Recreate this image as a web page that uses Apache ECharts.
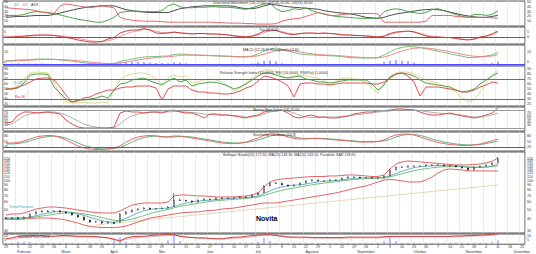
<!DOCTYPE html>
<html><head><meta charset="utf-8">
<script src="https://cdn.jsdelivr.net/npm/echarts@6/dist/echarts.min.js"></script>
<style>html,body{margin:0;padding:0;background:#fff}#c{width:536px;height:254px}</style>
</head><body><div id="c"></div>
<script>
// ---------- axis / tick labels ----------
const dayLabels = ['29','5','12','19','26','4','11','18','25','1','8','15','22','29','6','13','20','27','3','10','17','24','1','8','15','22','29','5','12','19','26','2','9','16','23','30','7','14','21','28','4','11','18','25'];
const monthNames = ['Februari','Maret','April','Mei','Juni','Juli','Agustus','September','Oktober','November','Desember'];
const monthIdx = [3,10,18,26,34,42,51,60,69,78,86];
const priceTicks = [30,40,50,60,70,80,90,100,110,120,130,140,150,160,170,180];

// ---------- price ----------
const openP = [40.5,40.9,41.2,40.6,42.0,45.0,47.3,48.4,48.0,48.6,47.3,46.2,44.0,41.9,39.0,37.2,37.5,36.3,37.0,37.0,45.1,47.3,49.6,50.8,52.0,50.8,51.2,52.0,54.0,63.0,62.5,61.6,60.1,63.0,64.6,64.0,66.1,65.5,66.1,66.5,67.8,67.5,71.1,75.0,88.2,94.8,94.0,90.4,88.2,90.4,94.8,99.5,101.9,99.5,100.0,101.9,102.5,106.8,109.4,109.0,106.8,107.5,106.8,107.0,112.1,129.4,139.1,138.0,142.5,141.5,142.5,146.0,145.0,146.0,142.5,143.0,139.1,135.8,129.4,139.1,142.5,146.0,153.1];
const closeP = [40.9,41.2,40.6,41.9,45.1,47.3,48.4,48.0,48.6,47.3,46.2,44.0,41.9,39.0,37.2,37.5,36.3,37.0,36.0,45.1,47.3,49.6,50.8,52.0,50.8,51.2,52.0,53.3,63.0,62.5,61.6,60.1,63.0,64.6,64.0,66.1,65.5,66.1,66.5,67.8,67.5,71.1,74.6,88.2,94.8,94.0,90.4,88.2,90.4,94.8,99.5,101.9,99.5,100.0,101.9,102.5,106.8,109.4,109.0,106.8,107.5,106.8,107.0,112.1,129.4,139.1,138.0,142.5,141.5,142.5,146.0,145.0,146.0,142.5,143.0,139.1,135.8,129.4,139.1,142.5,146.0,153.1,168.5];
const highP = [41.8,42.0,41.9,42.6,45.8,48.2,49.2,49.3,49.5,49.0,47.9,46.6,44.5,42.3,39.6,38.3,38.0,37.8,37.4,46.0,48.5,50.4,51.8,53.0,52.6,52.0,52.8,54.2,74.6,65.0,63.4,62.2,63.8,65.6,65.4,66.9,67.0,67.2,67.4,68.8,68.6,72.0,75.8,89.6,96.5,96.2,94.6,91.0,91.5,95.8,100.6,103.0,102.6,101.2,103.0,103.8,108.0,110.8,110.6,109.8,108.6,108.4,108.2,113.4,131.0,140.8,140.5,143.8,144.0,144.0,147.4,147.6,147.8,146.8,144.4,143.8,140.0,136.4,140.2,143.6,147.2,154.6,176.8];
const lowP = [39.8,40.2,40.0,40.2,41.6,44.6,46.8,47.2,47.5,46.8,45.6,43.5,41.2,38.5,36.7,36.6,35.6,35.8,35.3,36.8,44.5,46.9,49.0,50.2,50.0,50.1,50.7,51.6,53.5,61.5,60.6,59.2,59.6,62.4,63.2,63.5,64.8,65.0,65.5,65.9,66.8,67.0,70.5,74.4,87.4,92.6,89.4,87.0,87.6,89.8,94.0,98.6,98.4,98.6,99.2,101.0,101.8,106.0,108.0,105.8,105.9,105.6,105.8,106.4,111.4,128.5,136.4,137.2,140.2,140.4,141.6,143.8,144.0,141.4,141.2,138.0,134.2,128.0,128.8,138.2,141.6,145.2,152.0];
const bbUpper = [44.0,45.1,45.1,46.2,48.4,50.8,52.0,53.3,53.3,52.7,52.0,50.8,49.6,48.4,47.3,46.7,46.2,46.2,46.2,48.4,52.0,55.9,57.3,58.7,58.7,58.7,58.7,60.1,69.4,71.1,71.1,70.3,69.4,69.4,68.6,67.8,67.8,67.8,67.8,68.6,69.4,71.1,74.6,86.1,97.1,101.9,104.3,105.5,106.8,108.1,109.4,110.7,110.7,110.7,112.1,112.1,113.4,114.8,114.8,113.4,112.1,110.7,110.7,114.8,132.6,149.5,156.8,160.6,158.7,156.8,155.0,153.1,151.3,149.5,147.7,146.0,146.0,146.0,147.7,149.5,153.1,158.7,172.6];
const bbLower = [40.0,39.5,39.5,40.0,40.4,40.9,40.9,40.9,40.4,40.0,39.0,37.6,36.3,34.6,33.4,33.0,32.6,32.6,32.6,33.0,33.8,35.4,37.2,39.0,40.9,41.9,42.9,44.0,45.1,46.2,46.7,47.3,47.3,48.4,49.0,49.6,50.8,51.4,52.0,53.3,54.6,55.9,57.3,58.7,58.7,58.7,60.1,61.6,63.0,64.6,66.1,67.8,69.4,71.1,72.8,74.6,77.4,80.1,83.1,86.1,88.2,92.6,97.1,101.9,103.1,101.9,99.5,97.1,97.1,97.1,101.9,109.4,120.4,129.4,132.6,131.0,129.4,126.4,126.4,126.4,126.4,126.4,126.4];
const maFast = [40.8,40.9,40.9,41.1,41.9,43.3,44.8,46.3,47.5,48.0,47.7,46.8,45.4,43.6,41.6,39.9,38.4,37.4,36.8,38.4,40.8,43.4,46.3,48.8,50.3,51.1,51.4,51.9,54.0,56.4,58.6,60.0,61.5,62.3,62.8,63.6,64.4,65.2,65.7,66.4,66.8,67.8,69.4,73.3,78.3,83.0,86.4,88.5,89.7,90.6,92.4,95.0,97.1,98.6,99.8,100.6,102.1,104.2,105.9,106.7,107.2,107.4,107.3,108.2,112.5,118.8,125.1,131.4,137.0,139.9,141.7,142.9,143.7,143.6,143.3,142.5,140.9,137.9,137.1,137.5,138.6,141.8,148.3];
const maSlow = [40.6,40.7,40.8,40.9,41.3,42.0,42.9,43.9,44.9,45.7,46.2,46.3,46.0,45.2,44.1,42.8,41.4,40.0,38.8,38.5,38.9,39.9,41.4,43.4,45.5,47.3,48.9,50.2,52.3,54.1,55.5,56.7,58.2,59.6,60.8,61.8,62.6,63.4,64.0,64.8,65.5,66.4,67.6,70.2,73.5,76.8,79.6,82.0,84.1,86.0,88.3,90.8,92.8,94.6,96.2,97.7,99.5,101.5,103.1,104.2,105.0,105.6,106.0,106.9,109.7,113.8,118.2,122.7,127.1,130.5,133.6,136.2,138.4,139.6,140.4,140.6,140.2,139.0,138.6,138.5,138.9,140.2,143.1];
const trendStart = {i:15, v:34.7};
const trendEnd = {i:82, v:90.4};

// ---------- indicators ----------
const dmiAdx = [18,19,20,20,21,22,22,22,24,27,30,33,36,38,40,41,42,42,42,38,34,32,30,29,28,28,28,28,32,36,38,40,41,42,42,42,42,42,41,38,36,36,38,42,45,44,42,40,39,38,37,36,35,32,30,28,27,26,24,21,18,17,16,18,22,25,27,29,31,33,34,35,34,32,29,26,23,21,19,18,18,20,22];
const dmiPlus = [22,22,22,24,28,30,29,28,26,23,20,17,14,12,10,8,8,12,18,28,30,31,31,30,30,30,32,42,46,40,38,38,39,39,40,40,39,39,38,36,35,38,42,46,47,36,30,32,36,34,38,32,28,25,22,20,19,18,17,16,16,16,16,30,34,36,34,30,28,26,28,34,36,32,28,24,20,18,24,24,22,24,32];
const dmiMinus = [38,37,36,35,34,32,29,27,26,42,46,44,42,40,38,40,42,40,38,18,14,12,11,10,10,10,9,8,8,8,8,8,8,8,8,7,7,6,6,6,5,5,4,4,4,5,10,13,15,16,20,24,28,25,22,22,24,25,26,26,26,26,25,8,8,8,8,8,8,8,10,22,22,22,22,20,19,18,18,18,18,17,16];
const trixA = [0,0,0.5,1,1.5,2,2,2,1.5,0.5,-0.5,-1.5,-3,-4,-5,-5,-4.5,-2,-0.5,4,6,7,7,8.5,7,4,3.5,4,5,4,3.5,3,3.5,3.5,3,3,2.5,2,1,0.5,0,1,3,6,7,6.5,4.5,3,2.5,3.5,4,4,3.5,4,3.5,3,2,2,1.5,1.5,1,0.5,0,1,3.5,5,5.5,6,5,3,1,0,0,-0.5,-0.5,-1.5,-2.5,-3,-2,0,1,3,6];
const trixB = [0,0,0.2,0.5,0.9,1.3,1.7,1.9,1.8,1.3,0.6,-0.3,-1.4,-2.6,-3.7,-4.5,-4.7,-3.8,-2.3,0.6,3.2,5.0,6.2,7.4,7.3,5.7,4.5,4.2,4.6,4.3,3.8,3.3,3.4,3.4,3.1,3.0,2.7,2.3,1.5,0.8,0.3,0.6,2.0,4.4,6.2,6.6,5.3,3.8,2.9,3.2,3.7,3.9,3.6,3.8,3.6,3.2,2.5,2.1,1.7,1.5,1.2,0.8,0.3,0.6,2.5,4.2,5.1,5.7,5.3,3.8,1.9,0.5,0,-0.3,-0.5,-1.1,-2.0,-2.7,-2.4,-1.0,0.5,2.2,4.6];
const macdLine = [1.0,1.5,2.0,2.2,2.5,2.8,3.0,2.9,2.5,2.0,1.5,0.8,0.0,-0.8,-1.5,-1.8,-2.0,-1.9,-1.5,0.5,1.8,3.0,4.0,5.0,5.3,5.5,5.8,6.0,7.5,8.0,7.6,7.0,6.8,6.5,6.3,6.0,5.8,5.5,5.2,5.0,5.2,6.0,8.0,11.0,13.0,14.0,12.8,11.0,9.5,8.0,7.5,7.0,6.8,6.5,6.2,6.0,5.3,4.5,4.2,4.0,4.0,4.0,4.5,7.0,10.0,13.0,14.5,15.5,15.2,14.5,13.2,12.0,10.8,9.5,8.2,7.0,5.8,4.5,4.6,5.0,6.0,7.0,10.0];
const macdSignal = [0.8,1.0,1.3,1.6,1.9,2.2,2.5,2.7,2.7,2.5,2.2,1.8,1.3,0.6,-0.1,-0.7,-1.2,-1.5,-1.6,-1.0,-0.2,0.9,2.0,3.0,3.8,4.4,4.9,5.3,5.8,6.5,6.9,7.0,6.9,6.8,6.6,6.4,6.1,5.9,5.6,5.3,5.2,5.4,6.2,7.8,9.6,11.2,12.1,12.0,11.2,10.0,9.0,8.2,7.6,7.1,6.8,6.5,6.1,5.6,5.1,4.7,4.4,4.2,4.2,5.0,6.7,8.9,10.9,12.6,13.7,14.2,14.0,13.4,12.5,11.4,10.2,9.0,7.8,6.6,5.8,5.4,5.5,6.0,7.4];
const macdHist = [0.2,0.5,0.7,0.6,0.6,0.6,0.5,0.2,-0.2,-0.5,-0.7,-1.0,-1.3,-1.4,-1.4,-1.1,-0.8,-0.4,0.1,1.5,2.0,2.1,2.0,2.0,1.5,1.1,0.9,0.7,1.7,1.5,0.7,0,-0.1,-0.3,-0.3,-0.4,-0.3,-0.4,-0.4,-0.3,0,0.6,1.8,3.2,3.4,2.8,0.7,-1.0,-1.7,-2.0,-1.5,-1.2,-0.8,-0.6,-0.6,-0.5,-0.8,-1.1,-0.9,-0.7,-0.4,-0.2,0.3,2.0,3.3,4.1,3.6,2.9,1.5,0.3,-0.8,-1.4,-1.7,-1.9,-2.0,-2.0,-2.0,-2.1,-1.2,-0.4,0.5,1.0,2.6];
const rsiGreen = [50,50,52,62,78,80,80,79,54,42,30,24,28,28,30,32,36,32,48,60,62,68,70,72,66,62,58,66,72,64,68,56,60,62,64,63,60,56,50,54,60,68,76,82,82,78,74,72,74,76,70,68,64,64,62,64,66,68,68,68,68,60,48,58,74,80,82,80,76,68,62,60,58,56,54,48,44,46,50,60,68,76,82];
const rsiOlive = [51,52,56,70,82,84,83,82,64,38,24,22,22,23,22,22,24,22,48,68,76,80,82,82,78,70,60,72,78,74,76,62,64,68,70,68,64,56,46,52,62,72,82,88,88,84,76,72,76,78,76,74,72,66,58,64,72,72,70,68,62,52,42,60,76,82,84,84,80,74,68,64,62,56,50,44,32,24,28,44,62,78,88];
const rsiRed = [50,50,54,58,64,70,72,72,68,54,38,24,26,32,34,40,44,48,48,52,54,54,56,56,56,52,28,50,56,56,56,48,44,44,42,42,40,40,42,46,52,56,66,76,74,70,64,56,34,60,62,62,60,60,58,60,62,62,62,62,62,60,60,64,72,80,82,76,64,36,54,54,54,52,50,48,44,44,48,54,58,64,62];
const mfiRed = [36.7,40,63.3,73.3,73.3,70,71.7,73.3,70,66.7,46.7,33.3,23.3,20,20,20,20,20,23.3,70,76.7,73.3,73.3,70,73.3,73.3,70,76.7,80,73.3,70,70,63.3,53.3,66.7,66.7,63.3,63.3,60,56.7,53.3,60,63.3,73.3,76.7,76.7,80,70,56.7,53.3,60,63.3,56.7,56.7,53.3,53.3,56.7,60,66.7,70,73.3,73.3,76.7,78.3,80,83.3,83.3,81.7,80,73.3,66.7,63.3,63.3,66.7,70,65,60,56.7,53.3,56.7,63.3,70,86.7];
const mfiGray = [30,33.3,46.7,60,66.7,70,71.7,73.3,73.3,70,63.3,53.3,43.3,33.3,26.7,23.3,20,20,20,33.3,50,60,66.7,70,71.7,73.3,73.3,73.3,75,75,73.3,71.7,70,66.7,65,63.3,63.3,63.3,61.7,60,56.7,56.7,60,66.7,73.3,76.7,78.3,76.7,70,61.7,56.7,55,55,56.7,56.7,56.7,58.3,60,63.3,65,68.3,70,73.3,75,76.7,80,80,80,80,78.3,75,71.7,70,68.3,66.7,65,63.3,60,56.7,56.7,60,63.3,70];
const stochRed = [42,42,45,53,63,74,79,82,79,71,58,42,26,16,11,8,8,11,16,26,47,63,74,79,82,79,74,74,79,79,74,68,63,58,53,47,42,39,39,42,47,58,68,84,89,89,84,74,66,63,63,66,66,63,61,58,55,53,50,47,47,47,50,58,74,84,89,89,84,74,63,53,45,39,34,32,29,29,32,37,45,53,63];
const stochGreen = [37,37,39,45,53,63,71,76,79,76,68,55,42,29,21,13,11,11,13,18,32,47,61,71,76,79,76,74,74,76,76,74,68,63,58,53,47,45,42,42,45,50,58,68,79,84,84,82,74,68,66,66,66,66,63,61,58,55,53,50,50,50,50,53,61,74,82,87,87,82,74,63,55,47,42,37,34,32,32,34,39,45,53];
const volume = [2,2,3,3,3,2,2,2,1.5,2,2,2,2,1.5,2,2,2,2,5,9,3,2,2,2,2,2,2,5,13,4,2,2,2,1.5,1.5,2,1.5,1.5,2,2,2,2.5,3,8,4,2,2,2,2,2,2,2,1.5,1.5,1.5,1.5,2,2,1.5,1.5,1.5,1.5,2,4,10,4,2,2,2,1.5,1.5,1.5,1.5,2,2,2,2,2,2,2,2,3,5];
const volMA = [7,8,10,11,11,11,11,10.5,10,11,11,10.5,10,10,10,9.5,9,8,6,4,8,9.5,10,10,11,11.5,12,12.5,12,10,9,8.5,8,8,7.5,7,7,8,9,9,10,11,11.5,12,12,11,10,9,9,9,9,8.5,8.5,8.5,8.5,8.5,8.5,9,9,9,9,9,9,9.5,10,10,10,10,10,10,10,10,10,10,10,10.5,10.5,11,11,11.5,12,12.5,13];
const volMA2 = [6,6.5,8,9,9.5,10,10,10,9.5,9.5,10,10,9.5,9,9,9,8.5,8,7,5,6,7.5,8.5,9,9.5,10,10.5,11,11.5,10.5,9.5,8.5,8,7.5,7,6.5,6.5,7,7.5,8,8.5,9.5,10.5,11.5,12,11.5,10.5,9.5,8.5,8,8,8,7.5,7.5,7.5,7.5,7.5,8,8,8,8,8,8,8.5,9,9.5,9.5,9.5,9.5,9.5,9.5,9.5,9.5,9.5,9.5,9.5,10,10,10.5,10.5,11,11.5,12.5];

// ---------- build ----------
const NCAT = 87;
const categories = [];
for (let i = 0; i < NCAT; i++) categories.push('c' + i);
const trendLine = closeP.map(() => null);
trendLine[trendStart.i] = trendStart.v;
trendLine[trendEnd.i] = trendEnd.v;
const candles = openP.map((o, i) => [o, closeP[i], lowP[i], highP[i]]);

const panels = [
  {top:0, height:26, min:0, max:52, labels:[10,20,30,40,50]},
  {top:27, height:17, min:-7, max:10, labels:[0,5]},
  {top:45, height:20, min:-3, max:17, labels:[0,10]},
  {top:66, height:40, min:16, max:96, labels:[20,30,40,50,60,70,80,90]},
  {top:107, height:24, min:10, max:90, labels:[20,30,40,50,60,70,80]},
  {top:132, height:19, min:0, max:100, labels:[20,50,80]},
  {top:152, height:81, log:true, min:28.6, max:199, labels:priceTicks},
  {top:234, height:12, min:0, max:13, labels:[5,10]}
];
const FONT = 'Liberation Sans, Arial, sans-serif';
const grid = panels.map(p => ({left:3, right:11, top:p.top, height:p.height, show:true, borderColor:'#555', borderWidth:1, backgroundColor:'#fff'}));
const xAxis = panels.map((p, g) => ({
  type:'category', gridIndex:g, data:categories, boundaryGap:true,
  axisLine:{show:false}, axisTick:{show:false},
  splitLine:{show:true, interval:1, lineStyle:{color:'#dcdcdc', width:0.6}},
  axisLabel: g === 7 ? {
    show:true, interval:0, fontSize:3.6, lineHeight:4.4, margin:1, color:'#333', fontFamily:FONT,
    formatter:(v, i) => {
      const d = i % 2 === 0 ? (dayLabels[i / 2] || '') : '';
      const m = monthIdx.indexOf(i);
      return m >= 0 ? d + '\n' + monthNames[m] : d;
    }
  } : {show:false}
}));
const yAxis = [];
panels.forEach((p, g) => {
  ['right', 'left'].forEach(pos => {
    yAxis.push({
      type: p.log ? 'log' : 'value', logBase:10, gridIndex:g, position:pos, min:p.min, max:p.max,
      axisLine:{show:false}, axisTick:{show:false}, splitLine:{show:false},
      axisLabel:{show:true, customValues:p.labels, fontSize:3.6, color:'#333', margin: pos === 'right' ? 2 : 1, inside: pos === 'left', fontFamily:FONT}
    });
  });
});
yAxis.push({type:'value', gridIndex:2, min:-1, max:19, show:false}); // 16: MACD histogram

const ln = (data, g, color, w, extra) => Object.assign({
  type:'line', data, xAxisIndex:g, yAxisIndex:g * 2, showSymbol:false, symbol:'none',
  lineStyle:{color, width:w || 0.9}, itemStyle:{color}, animation:false, silent:true, z:3
}, extra || {});
const hline = (vals, color, w) => ({silent:true, symbol:'none', label:{show:false}, animation:false,
  lineStyle:{color, width:w || 1, type:'solid'}, data: vals.map(v => ({yAxis:v}))});

const series = [
  ln(dmiAdx, 0, '#3a3a3a'), ln(dmiPlus, 0, '#3c9c3c'), ln(dmiMinus, 0, '#e25a5a'),
  ln(trixB, 1, '#e89a9a', 0.9, {markLine:hline([0], '#4b4bff')}), ln(trixA, 1, '#c83030'),
  {type:'bar', data:macdHist, xAxisIndex:2, yAxisIndex:16, barWidth:1, itemStyle:{color:'#5a5aff'}, animation:false, silent:true, markLine:hline([0], '#4b4bff')},
  ln(macdLine, 2, '#70b870'), ln(macdSignal, 2, '#e88080'),
  ln(rsiOlive, 3, '#d6d68a', 0.9, {markLine:hline([70, 30], '#5a5aff')}), ln(rsiGreen, 3, '#3a9a3a'), ln(rsiRed, 3, '#e04040'),
  ln(mfiGray, 4, '#a8a8a8', 0.9, {markLine:hline([80, 20], '#9a9a9a', 1.2)}), ln(mfiRed, 4, '#d84040'),
  ln(stochGreen, 5, '#58a878', 0.9, {markLine:hline([20], '#4b4bff')}), ln(stochRed, 5, '#e06060'),
  ln(trendLine, 6, '#e2d3b2', 0.9, {connectNulls:true}),
  ln(bbUpper, 6, '#e05555'), ln(bbLower, 6, '#e05555'),
  ln(maSlow, 6, '#5ab05a', 0.8), ln(maFast, 6, '#4aa0b8', 0.8),
  {type:'candlestick', data:candles, xAxisIndex:6, yAxisIndex:12, barWidth:2.2, animation:false, silent:true, z:4,
    itemStyle:{color:'#ffffff', color0:'#000000', borderColor:'#111111', borderColor0:'#000000', borderWidth:0.5}},
  {type:'bar', data:volume, xAxisIndex:7, yAxisIndex:14, barWidth:1, itemStyle:{color:'#7a7aff'}, animation:false, silent:true},
  ln(volMA2, 7, '#f0a8a8'), ln(volMA, 7, '#c83030')
];

const T = (text, x, y, size, fill, extra) => ({type:'text', left:x, top:y, silent:true, z:100,
  style:Object.assign({text, fontSize:size, fill, fontFamily:FONT}, extra || {})});
const graphic = [
  T('Directional Movement (14) 22.00, +DI(14) 32.00, -DI(14) 16.00', 213, 0.5, 3.6, '#333'),
  T('+DI', 13, 3, 3.6, '#20b0c0'), T('-DI', 22, 3, 3.6, '#e04040'), T('ADX', 31, 3, 3.6, '#333'),
  T('Trix (9) 6.00', 259, 27.5, 3.6, '#333'),
  T('MACD (12,26,9) Histogram(+) 2.60', 243, 47.5, 3.6, '#333'),
  T('Relative Strength Index (14,0000), RSI (14,0000), RSI(Rsi) (1,0000)', 220, 70.5, 3.6, '#333'),
  T('(3.23)', 13, 80.5, 3.6, '#20b0c0'), T('Rsi 30', 15, 94.5, 3.6, '#e02020'),
  T('Money Flow Index (14) 70.00', 253, 107.5, 3.6, '#333'),
  T('Stochastic Oscillator (14,3)', 253, 132.5, 3.6, '#333'),
  T('Bollinger Bands(20) 172.60, MA(10) 148.30, MA(20) 143.10, Parabolic SAR 138.90', 223, 152.5, 3.6, '#333'),
  T('Trend Forecast', 9, 204.5, 3.6, '#20b0c0'),
  T('Novita', 256, 214.5, 7, '#000000', {fontWeight:'bold'}),
  T('Volume/Price Trend', 18, 234.5, 3.6, '#333')
];

const chart = echarts.init(document.getElementById('c'), null, {renderer:'svg', width:536, height:254});
chart.setOption({animation:false, backgroundColor:'#ffffff', grid, xAxis, yAxis, series, graphic});
</script></body></html>
